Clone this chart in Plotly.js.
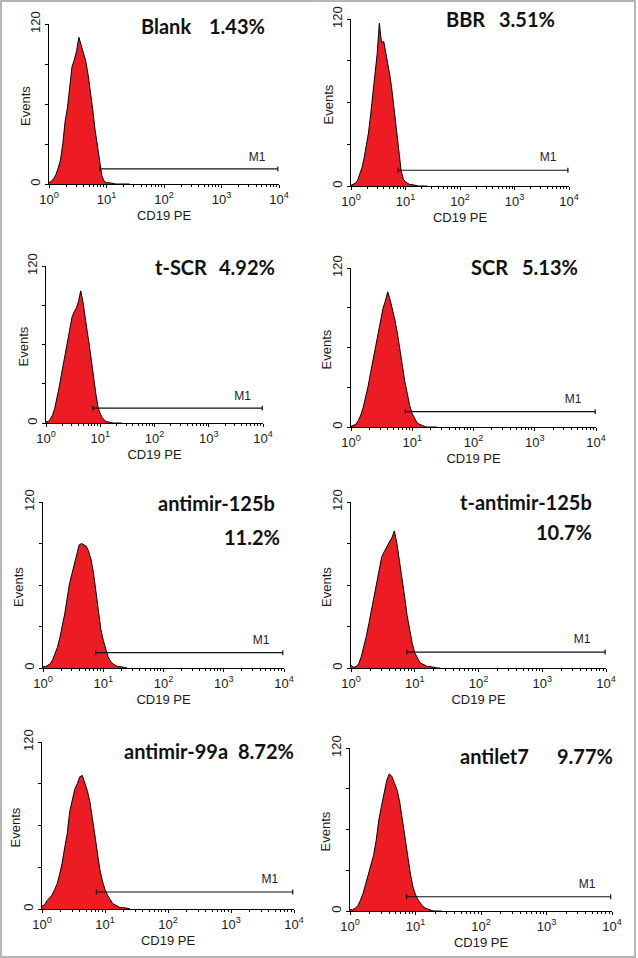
<!DOCTYPE html>
<html>
<head>
<meta charset="utf-8">
<script src="https://cdn.plot.ly/plotly-3.0.1.min.js"></script>
<style>html,body{margin:0;padding:0;background:#fff;}#chart{width:638px;height:958px;}</style>
</head>
<body>
<div id="chart"></div>
<script>
// ---------- DATA ----------
var sampleNames = ["Blank", "BBR", "t-SCR", "SCR", "antimir-125b", "t-antimir-125b", "antimir-99a", "antilet7"];
var percentLabels = ["1.43%", "3.51%", "4.92%", "5.13%", "11.2%", "10.7%", "8.72%", "9.77%"];
// histogram channel positions (log10 of CD19 PE intensity)
var binLog = [0.00, 0.04, 0.08, 0.12, 0.16, 0.20, 0.24, 0.28, 0.32, 0.36, 0.40, 0.44, 0.48, 0.52, 0.56, 0.60,
              0.64, 0.68, 0.72, 0.76, 0.80, 0.84, 0.88, 0.92, 0.96, 1.00, 1.04, 1.08, 1.12, 1.16, 1.20, 1.24,
              1.28, 1.32, 1.36, 1.40];
var blankCounts = [1, 2, 4, 7, 12, 18, 30, 47, 57, 75, 88, 93, 100, 110, 104, 99,
                   92, 82, 70, 56, 41, 29, 15, 6, 2, 1, 1, 0.5, 0, 0, 0, 0, 0, 0, 0, 0];
var bbrCounts = [0.5, 1, 2, 4, 8, 13, 20, 28, 38, 51, 65, 79, 95, 117, 103, 104,
                 96, 87, 78, 66, 52, 35, 21, 11, 5, 3, 2, 1, 1, 0.5, 0, 0, 0, 0, 0, 0];
var tScrCounts = [1, 1, 3, 6, 11, 18, 27, 36, 45, 55, 63, 72, 81, 85, 88, 93,
                  101, 93, 83, 70, 59, 46, 33, 22, 12, 7, 4, 2, 1, 0.5, 0, 0, 0, 0, 0, 0];
var scrCounts = [0.5, 1, 2, 5, 9, 15, 22, 31, 41, 51, 62, 72, 81, 89, 95, 102,
                 96, 89, 80, 70, 57, 45, 34, 25, 16, 10, 6, 3, 2, 1, 0.5, 0, 0, 0, 0, 0];
var antimir125bCounts = [1, 1, 2, 3, 6, 10, 15, 22, 30, 39, 50, 61, 68, 75, 83, 89,
                         90, 89, 88, 84, 78, 68, 55, 41, 28, 20, 13, 8, 5, 3, 2, 1, 1, 0.5, 0, 0];
var tAntimir125bCounts = [2, 0.5, 1, 3, 8, 15, 23, 32, 42, 52, 62, 72, 80, 84, 88, 91,
                          94, 99, 90, 78, 64, 52, 38, 27, 18, 11, 7, 4, 3, 2, 1, 1, 0.5, 0, 0, 0];
var antimir99aCounts = [2, 3, 6, 8, 10, 14, 18, 25, 33, 44, 54, 70, 79, 86, 90, 95,
                        96, 91, 85, 77, 66, 53, 40, 28, 20, 14, 10, 7, 4, 3, 2, 1, 1, 1, 0.5, 0];
var antilet7Counts = [1, 1, 2, 4, 8, 13, 20, 27, 34, 41, 52, 67, 77, 87, 96, 101,
                      99, 94, 89, 80, 67, 52, 38, 28, 18, 12, 8, 5, 3, 2, 1, 0.5, 0, 0, 0, 0];
var allCounts = [blankCounts, bbrCounts, tScrCounts, scrCounts, antimir125bCounts, tAntimir125bCounts, antimir99aCounts, antilet7Counts];
// M1 gate (intensity units and event count level)
var gateStart = [7.7, 7.2, 7.3, 7.7, 7.5, 7.5, 7.3, 7.3];
var gateEnd = [9550, 9550, 9700, 9700, 9550, 9700, 9550, 9550];
var gateY = [11.3, 11.3, 11.4, 11.6, 11.1, 11.5, 12.2, 10.5];
var gateName = "M1";
var xTickVals = [1, 10, 100, 1000, 10000];
var xTickText = ["10<sup>0</sup>", "10<sup>1</sup>", "10<sup>2</sup>", "10<sup>3</sup>", "10<sup>4</sup>"];
var xMinorDigits = [2, 3, 4, 5, 6, 7, 8, 9];
var yTickVals = [0, 30, 60, 90, 120];
var yTickText = ["0", "", "", "", "120"];
var xTitle = "CD19 PE";
var yTitle = "Events";

// minor tick positions: digits 2..9 in each decade
var xMinorVals = [];
[1, 10, 100, 1000].forEach(function (d) { xMinorDigits.forEach(function (k) { xMinorVals.push(k * d); }); });

// ---------- LAYOUT (pixel boxes of the 8 plot areas: left, top, right, bottom) ----------
var W = 638, H = 958;
var boxes = [[49, 24, 279, 184], [351, 19, 569, 186], [46, 266, 263, 423], [351, 268, 596, 427],
             [43, 502, 284, 668], [351, 502, 606, 668], [42, 742, 294, 909], [350, 748, 612, 911]];
// title placement: [labelX, labelAnchor, labelY, pctX, pctY]
var titlePos = [[139, 'left', 26, 267, 26], [444, 'left', 19, 557, 19], [153, 'left', 267, 277, 267],
                [469, 'left', 267, 580, 267], [277, 'right', 503, 282, 537], [594, 'right', 502, 594, 532],
                [122, 'left', 751, 296, 751], [458, 'left', 756, 615, 756]];
var eventsOffset = [24, 23, 23, 25, 25, 25, 27, 25];

var RED = '#ed1c24';
var axisFontFamily = 'Liberation Sans, Arial, sans-serif';
var tickFont = {family: axisFontFamily, size: 13, color: '#1a1a1a'};
var titleFont = {family: 'Lato, Open Sans, sans-serif', size: 20, color: '#111', weight: 700};

var traces = [];
var layout = {
  width: W, height: H, margin: {l: 0, r: 0, t: 0, b: 0},
  paper_bgcolor: '#fff', plot_bgcolor: 'rgba(0,0,0,0)', showlegend: false,
  annotations: [],
  shapes: [{type: 'rect', xref: 'paper', yref: 'paper', x0: 1 / W, x1: 635 / W, y0: 1 - 957 / H, y1: 1 - 1 / H,
            line: {color: '#b5b5b5', width: 2}}]
};

for (var i = 0; i < 8; i++) {
  var n = i + 1;
  var xa = 'x' + (n === 1 ? '' : n), ya = 'y' + (n === 1 ? '' : n);
  var b = boxes[i];
  var xs = binLog.map(function (v) { return Math.pow(10, v); });
  traces.push({
    type: 'scatter', mode: 'lines', x: xs, y: allCounts[i], xaxis: xa, yaxis: ya,
    fill: 'tozeroy', fillcolor: RED, line: {color: '#000', width: 1}, hoverinfo: 'skip'
  });
  var g0 = gateStart[i], g1 = gateEnd[i], gy = gateY[i];
  traces.push({
    type: 'scatter', mode: 'lines', xaxis: xa, yaxis: ya, hoverinfo: 'skip',
    x: [g0, g0, null, g0, g1, null, g1, g1],
    y: [gy - 1.8, gy + 1.8, null, gy, gy, null, gy - 1.8, gy + 1.8],
    line: {color: '#111', width: 1.2}
  });
  traces.push({
    type: 'scatter', mode: 'text', xaxis: xa, yaxis: ya, hoverinfo: 'skip',
    x: [g1 / 2.3], y: [gy + 8.5], text: [gateName],
    textfont: {family: axisFontFamily, size: 12, color: '#222'}
  });
  layout['xaxis' + (n === 1 ? '' : n)] = {
    anchor: ya, type: 'log', range: [0, 4],
    domain: [b[0] / W, b[2] / W],
    showline: true, linecolor: '#000', linewidth: 1, showgrid: false, zeroline: false,
    tickmode: 'array', tickvals: xTickVals, ticktext: xTickText, ticks: 'outside', ticklen: 3, tickcolor: '#000',
    minor: {tickmode: 'array', tickvals: xMinorVals, ticks: 'outside', ticklen: 2, tickcolor: '#000', showgrid: false},
    tickfont: tickFont,
    title: {text: xTitle, font: {family: axisFontFamily, size: 13, color: '#1a1a1a'}, standoff: 5}
  };
  layout['yaxis' + (n === 1 ? '' : n)] = {
    anchor: xa, range: [0, 120],
    domain: [1 - b[3] / H, 1 - b[1] / H],
    showline: true, linecolor: '#000', linewidth: 1, showgrid: false, zeroline: false,
    tickmode: 'array', tickvals: yTickVals, ticktext: yTickText, ticks: 'outside', ticklen: 3, tickcolor: '#000',
    tickangle: -90, tickfont: tickFont
  };
  // y-axis title "Events" placed as a rotated label beside each axis
  layout.annotations.push({
    xref: 'paper', yref: 'paper', x: (b[0] - eventsOffset[i]) / W, y: 1 - ((b[1] + b[3]) / 2 + 2) / H,
    xanchor: 'center', yanchor: 'middle', textangle: -90, showarrow: false,
    text: yTitle, font: {family: axisFontFamily, size: 13, color: '#1a1a1a'}
  });
  var tp = titlePos[i];
  layout.annotations.push({
    xref: 'paper', yref: 'paper', x: tp[0] / W, y: 1 - tp[2] / H, xanchor: tp[1], yanchor: 'middle',
    text: sampleNames[i], showarrow: false, font: titleFont
  });
  layout.annotations.push({
    xref: 'paper', yref: 'paper', x: tp[3] / W, y: 1 - tp[4] / H, xanchor: 'right', yanchor: 'middle',
    text: percentLabels[i], showarrow: false, font: titleFont
  });
}

Plotly.newPlot('chart', traces, layout, {staticPlot: true, displayModeBar: false});
</script>
</body>
</html>
